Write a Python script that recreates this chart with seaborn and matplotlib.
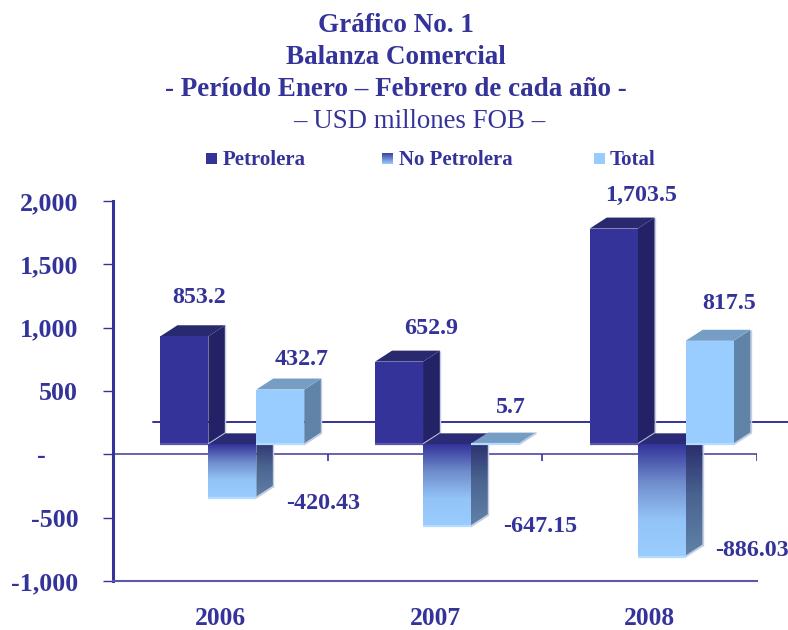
import matplotlib
matplotlib.use("Agg")
import matplotlib.pyplot as plt
import numpy as np
import pandas as pd
import seaborn as sns
from matplotlib.colors import LinearSegmentedColormap
from matplotlib.patches import Polygon

# --- Data ---
YEARS = ['2006', '2007', '2008']
SERIES = ['Petrolera', 'No Petrolera', 'Total']
PETROLERA = [853.2, 652.9, 1703.5]
NO_PETROLERA = [-420.43, -647.15, -886.03]
TOTAL = [432.7, 5.7, 817.5]
Y_TICKS = [-1000, -500, 0, 500, 1000, 1500, 2000]

# --- Style ---
W, H = 788, 630
NAVY = '#333399'
LINE = '#5c57aa'
SKY = '#99CCFF'
FRONT = {'Petrolera': NAVY, 'No Petrolera': SKY, 'Total': SKY}
SIDE = {'Petrolera': '#232266', 'Total': '#6083a8'}
TOP = {'Petrolera': '#29296f', 'No Petrolera': '#2a2a75', 'Total': '#769ec5'}
BASE = {'Petrolera': '#5c57aa', 'No Petrolera': '#b5dcff', 'Total': '#b5dcff'}
FRONT_GRAD = LinearSegmentedColormap.from_list('front', [NAVY, '#6f8ccb', '#93c4f8', SKY])
SIDE_GRAD = LinearSegmentedColormap.from_list('side', ['#232266', '#4a6390', '#6083a8'])
GRAD = np.linspace(0, 1, 256).reshape(-1, 1)

# label offsets from the bar end, in pixels (x right, y down)
LABEL_OFFSETS = {
    'Petrolera': [(15, -39), (32, -33), (27, -33)],
    'No Petrolera': [(91, 6), (93, 0), (90, -6)],
    'Total': [(21, -30), (16, -36), (20, -37)],
}

sns.set_theme(style='white')
plt.rcParams['font.family'] = ['Liberation Serif', 'DejaVu Serif']


def fmt_tick(v):
    if v == 0:
        return '-     '
    return f'{v:,.0f}'


def fmt_label(v):
    return f'{v:,.2f}' if v < 0 else f'{v:,.1f}'


def main():
    df = pd.DataFrame({
        'Año': YEARS * 3,
        'Serie': [s for s in SERIES for _ in YEARS],
        'Saldo': PETROLERA + NO_PETROLERA + TOTAL,
    })

    fig = plt.figure(figsize=(W / 100, H / 100), dpi=100)
    ax = fig.add_axes([113 / W, 1 - 581 / H, 644 / W, 380 / H])
    # bars sit in a second layer, shifted up and right like the Excel 3D floor
    bar_ax = fig.add_axes([125 / W, 1 - 571 / H, 644 / W, 380 / H])

    sns.barplot(data=df, x='Año', y='Saldo', hue='Serie', hue_order=SERIES,
                palette=FRONT, width=0.67, gap=0, legend=False, ax=bar_ax,
                linewidth=0, saturation=1)
    bar_ax.set_xlim(-0.5, 2.5)
    bar_ax.set_ylim(-1000, 2000)
    bar_ax.axis('off')
    bar_ax.patch.set_alpha(0)

    # main axes
    ax.set_xlim(-0.5, 2.5)
    ax.set_ylim(-1000, 2000)
    ax.set_xticks(range(3), YEARS)
    ax.set_yticks(Y_TICKS, [fmt_tick(v) for v in Y_TICKS])
    ax.tick_params(axis='y', left=True, length=7, width=1, color=NAVY, pad=18,
                   labelsize=18.6, labelcolor=NAVY)
    ax.tick_params(axis='x', bottom=False, pad=12.5, labelsize=18.4, labelcolor=NAVY)
    for lab in ax.get_xticklabels() + ax.get_yticklabels():
        lab.set_fontweight('bold')
    for lab in ax.get_yticklabels():
        lab.set_va('center_baseline')
    ax.set_xlabel('')
    ax.set_ylabel('')
    sns.despine(ax=ax)
    ax.spines['left'].set_linewidth(2.2)
    ax.spines['left'].set_color(NAVY)
    ax.spines['bottom'].set_linewidth(1.5)
    ax.spines['bottom'].set_color(LINE)

    px_x = 3 / 644   # data units per pixel
    px_y = 3000 / 380
    ax.axhline(0, color=LINE, lw=1.3)
    ax.vlines([-0.5, 0.5, 1.5, 2.5], -7 * px_y, 0, color=NAVY, lw=1.2)
    # zero line on the back wall
    ax.plot([-0.5 + 40 * px_x, -0.5 + 675 * px_x], [32 * px_y, 32 * px_y],
            color=NAVY, lw=1.4, clip_on=False)

    dx, dy = 17 * px_x, 11 * px_y
    for i, (name, cont) in enumerate(zip(SERIES, bar_ax.containers)):
        z = 2 + 4 * i
        for j, bar in enumerate(cont.patches):
            x0, x1 = bar.get_x(), bar.get_x() + bar.get_width()
            val = bar.get_y() if bar.get_y() < 0 else bar.get_height()
            lo, hi = min(val, 0), max(val, 0)

            side = Polygon([(x1, lo), (x1 + dx, lo + dy), (x1 + dx, hi + dy), (x1, hi)],
                           closed=True, lw=0, zorder=z)
            top = Polygon([(x0, hi), (x0 + dx, hi + dy), (x1 + dx, hi + dy), (x1, hi)],
                          closed=True, lw=0, facecolor=TOP[name], zorder=z + 1)
            bar_ax.add_patch(side)
            bar_ax.add_patch(top)
            bar.set_zorder(z + 2)

            if name == 'No Petrolera':
                side.set_facecolor('none')
                im = bar_ax.imshow(GRAD, cmap=SIDE_GRAD, aspect='auto', zorder=z,
                                   extent=(x1, x1 + dx, lo, hi + dy), origin='upper',
                                   interpolation='bilinear')
                im.set_clip_path(side)
                bar.set_facecolor('none')
                im = bar_ax.imshow(GRAD, cmap=FRONT_GRAD, aspect='auto', zorder=z + 2,
                                   extent=(x0, x1, lo, hi), origin='upper',
                                   interpolation='bilinear')
            else:
                side.set_facecolor(SIDE[name])

            # pale rim along the far edge and the foot of each bar
            bar_ax.plot([x1 + dx, x1 + dx], [lo + dy, hi + dy], color='#c3cde3', lw=1,
                        zorder=z, solid_capstyle='butt')
            bar_ax.plot([x0, x1], [lo, lo], color=BASE[name], lw=1.6, zorder=z + 3,
                        solid_capstyle='butt')
            bar_ax.plot([x1, x1 + dx], [lo, lo + dy], color='#c3cde3', lw=1.4, zorder=z + 1)

            off_x, off_y = LABEL_OFFSETS[name][j]
            bar_ax.annotate(fmt_label(val), xy=((x0 + x1) / 2, val), xytext=(off_x * 0.72, -off_y * 0.72),
                            textcoords='offset points', ha='center', va='center',
                            fontsize=17.3, fontweight='bold', color=NAVY, zorder=30,
                            annotation_clip=False)

    bar_ax.set_xlim(-0.5, 2.5)
    bar_ax.set_ylim(-1000, 2000)

    # titles
    fig.text(396 / W, 1 - 26 / H, 'Gráfico No. 1', ha='center', va='center',
             fontsize=19.5, fontweight='bold', color=NAVY)
    fig.text(396 / W, 1 - 57 / H, 'Balanza Comercial', ha='center', va='center',
             fontsize=19.5, fontweight='bold', color=NAVY)
    fig.text(396 / W, 1 - 89 / H, '- Período Enero – Febrero de cada año -', ha='center', va='center',
             fontsize=19.5, fontweight='bold', color=NAVY)
    fig.text(419 / W, 1 - 121 / H, '– USD millones FOB –', ha='center', va='center',
             fontsize=19.4, color=NAVY)

    # legend
    swatches = [(206, 223, NAVY, NAVY), (382, 399, NAVY, SKY), (594, 610, SKY, SKY)]
    for name, (sx, tx, c0, c1) in zip(SERIES, swatches):
        sw = fig.add_axes([sx / W, 1 - 164 / H, 11 / W, 11 / H])
        cmap = LinearSegmentedColormap.from_list(name, [c0, c1])
        sw.imshow(GRAD, cmap=cmap, aspect='auto')
        sw.axis('off')
        fig.text(tx / W, 1 - 160 / H, name, ha='left', va='center',
                 fontsize=15, fontweight='bold', color=NAVY)

    fig.savefig('out.png', dpi=100)


if __name__ == "__main__":
    main()
